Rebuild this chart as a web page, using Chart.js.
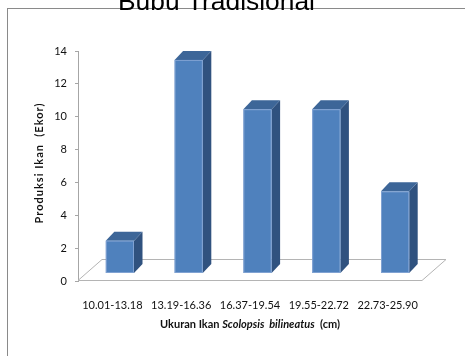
<!DOCTYPE html>
<html>
<head>
<meta charset="utf-8">
<script src="https://cdn.jsdelivr.net/npm/chart.js@4.4.1/dist/chart.umd.min.js"></script>
<style>
html,body{margin:0;padding:0;background:#fff;overflow:hidden;}
#wrap{width:465px;height:356px;position:relative;}
</style>
</head>
<body>
<div id="wrap"><canvas id="c" width="465" height="356"></canvas></div>
<script>
const categories = ['10.01-13.18', '13.19-16.36', '16.37-19.54', '19.55-22.72', '22.73-25.90'];
const produksi = [2, 13, 10, 10, 5];
const yTicks = [0, 2, 4, 6, 8, 10, 12, 14];
const chartTitle = 'Bubu Tradisional';
const yTitle = 'Produksi Ikan  (Ekor)';
const xTitleParts = [
  {text: 'Ukuran Ikan ', italic: false},
  {text: 'Scolopsis  bilineatus', italic: true},
  {text: '  (cm)', italic: false}
];

const FONT = 'Lato, "Open Sans", sans-serif';

function fitSpacing(ctx, text, target) {
  ctx.letterSpacing = '0px';
  const w = ctx.measureText(text).width;
  const sp = Math.max(0, (target - w) / (text.length - 1));
  ctx.letterSpacing = sp.toFixed(2) + 'px';
}

const decor = {
  id: 'decor',
  beforeDraw(chart) {
    const ctx = chart.ctx;
    ctx.save();
    ctx.fillStyle = '#fff';
    ctx.fillRect(0, 0, chart.width, chart.height);
    ctx.restore();
  },
  beforeDatasetsDraw(chart) {
    const ctx = chart.ctx;
    const x = chart.scales.x, y = chart.scales.y;
    const y0 = y.getPixelForValue(0);
    const l = x.left, r = x.right;
    const dx = 24, dy = 21;
    ctx.save();
    ctx.strokeStyle = '#b4b4b4';
    ctx.lineWidth = 1;
    ctx.beginPath();
    ctx.moveTo(l, y0 - 0.5);
    ctx.lineTo(l + dx, y0 - dy - 0.5);
    ctx.lineTo(r + dx, y0 - dy - 0.5);
    ctx.lineTo(r, y0 - 0.5);
    ctx.closePath();
    ctx.stroke();
    ctx.restore();
  },
  afterDatasetsDraw(chart) {
    const ctx = chart.ctx;
    const meta = chart.getDatasetMeta(0);
    const ox = 7.5, oy = 7.5, bx = 8.5, by = 9;
    ctx.save();
    meta.data.forEach(el => {
      const L = el.x - el.width / 2 + ox;
      const R = el.x + el.width / 2 + ox;
      const T = el.y - oy;
      const B = el.base - oy;
      ctx.fillStyle = '#30527f';
      ctx.beginPath();
      ctx.moveTo(R, T); ctx.lineTo(R + bx, T - by); ctx.lineTo(R + bx, B - by); ctx.lineTo(R, B); ctx.closePath();
      ctx.fill();
      ctx.fillStyle = '#3d6698';
      ctx.beginPath();
      ctx.moveTo(L, T); ctx.lineTo(L + bx, T - by); ctx.lineTo(R + bx, T - by); ctx.lineTo(R, T); ctx.closePath();
      ctx.fill();
      ctx.fillStyle = '#4f81bd';
      ctx.fillRect(L, T, R - L, B - T);
      ctx.strokeStyle = 'rgba(140,170,215,0.8)';
      ctx.lineWidth = 1;
      ctx.strokeRect(L + 0.5, T + 0.5, R - L - 1, B - T - 1);
    });
    ctx.restore();
  },
  afterDraw(chart) {
    const ctx = chart.ctx;
    ctx.save();
    ctx.strokeStyle = '#8a8a8a';
    ctx.lineWidth = 1;
    ctx.strokeRect(7.5, 8.5, 600, 500);
    // title, sized to the reference width
    ctx.fillStyle = '#000';
    ctx.font = '25px "Liberation Sans", Arial, sans-serif';
    const tw = ctx.measureText(chartTitle).width;
    const fs = 25 * 197 / tw;
    ctx.font = fs.toFixed(2) + 'px "Liberation Sans", Arial, sans-serif';
    ctx.textAlign = 'center';
    ctx.textBaseline = 'alphabetic';
    ctx.fillText(chartTitle, 216.5, 9.5);
    // y title
    ctx.save();
    ctx.translate(39.5, 163);
    ctx.rotate(-Math.PI / 2);
    ctx.font = 'bold 11px ' + FONT;
    fitSpacing(ctx, yTitle, 120);
    ctx.fillStyle = '#111';
    ctx.textAlign = 'center';
    ctx.textBaseline = 'middle';
    ctx.fillText(yTitle, 0, 0);
    ctx.restore();
    ctx.letterSpacing = '0px';
    // x title
    ctx.textBaseline = 'middle';
    ctx.textAlign = 'left';
    const fonts = xTitleParts.map(p => (p.italic ? 'italic ' : '') + 'bold 11px ' + FONT);
    let total = 0;
    xTitleParts.forEach((p, i) => { ctx.font = fonts[i]; total += ctx.measureText(p.text).width; });
    let cx = 250 - total / 2;
    ctx.fillStyle = '#111';
    xTitleParts.forEach((p, i) => {
      ctx.font = fonts[i];
      ctx.fillText(p.text, cx, 324);
      cx += ctx.measureText(p.text).width;
    });
    ctx.restore();
  }
};

function build() {
  new Chart(document.getElementById('c'), {
    type: 'bar',
    data: {
      labels: categories,
      datasets: [{
        data: produksi,
        backgroundColor: 'rgba(0,0,0,0)',
        borderWidth: 0,
        barPercentage: 0.41,
        categoryPercentage: 1
      }]
    },
    options: {
      responsive: false,
      animation: false,
      devicePixelRatio: 1,
      layout: {padding: {top: 51, right: 43, left: 0, bottom: 0}},
      plugins: {legend: {display: false}, title: {display: false}, tooltip: {enabled: false}},
      scales: {
        x: {
          grid: {display: false, drawTicks: false},
          border: {display: false},
          ticks: {color: '#111', font: {family: FONT, size: 11}, padding: 18, maxRotation: 0, autoSkip: false},
          afterFit(s) { s.height = 75; }
        },
        y: {
          min: 0, max: 14,
          afterBuildTicks(s) { s.ticks = yTicks.map(v => ({value: v})); },
          grid: {display: true, drawOnChartArea: false, drawTicks: true, tickLength: 3, color: '#a6a6a6'},
          border: {display: true, color: '#a6a6a6'},
          ticks: {color: '#111', font: {family: FONT, size: 11}, padding: 8},
          afterFit(s) { s.width = 78; }
        }
      }
    },
    plugins: [decor]
  });
}

const loads = [
  '10px Lato', 'bold 10px Lato', '11px Lato', 'bold 11px Lato', 'italic bold 11px Lato', '25px "Liberation Sans"'
].map(f => document.fonts.load(f).catch(() => {}));
Promise.all(loads).then(build, build);
</script>
</body>
</html>
